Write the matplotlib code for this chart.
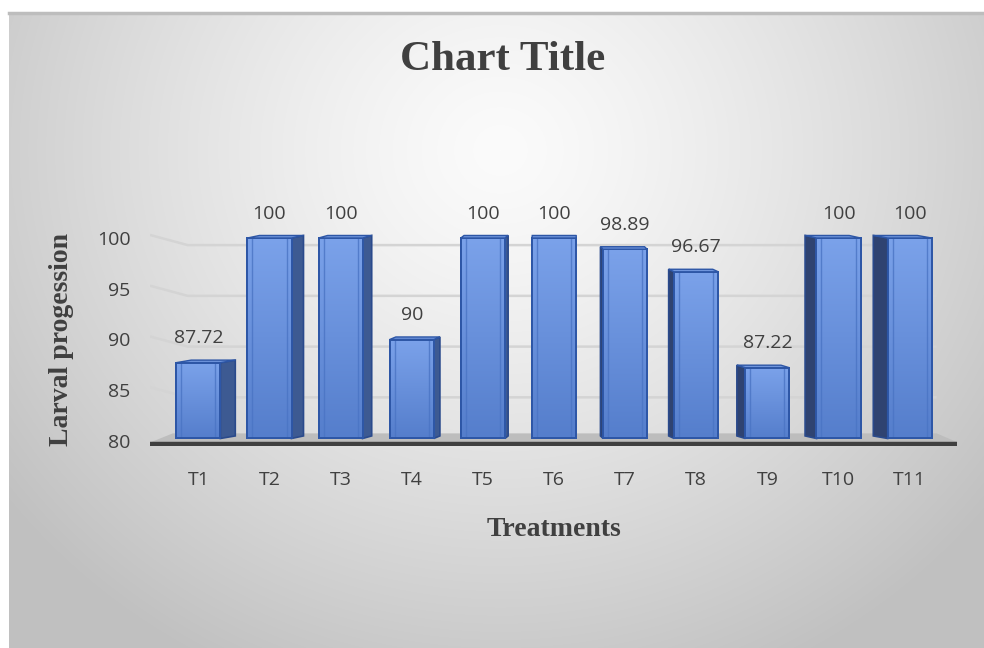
import numpy as np
import matplotlib
matplotlib.use("Agg")
import matplotlib.pyplot as plt
from matplotlib.patches import Polygon

# ---- data ----
categories = ["T1", "T2", "T3", "T4", "T5", "T6", "T7", "T8", "T9", "T10", "T11"]
values = [87.72, 100, 100, 90, 100, 100, 98.89, 96.67, 87.22, 100, 100]
value_labels = ["87.72", "100", "100", "90", "100", "100", "98.89", "96.67", "87.22", "100", "100"]
yticks = [80, 85, 90, 95, 100]
title = "Chart Title"
xlabel = "Treatments"
ylabel = "Larval progession"

W, H = 984, 648
fig = plt.figure(figsize=(W / 100, H / 100), dpi=100)
fig.patch.set_facecolor("white")

# ---- background panel with radial gradient ----
bg = fig.add_axes([9 / W, 0, (W - 9) / W, (H - 12) / H], zorder=-10)
yy, xx = np.mgrid[12:H, 9:W]
r = np.sqrt(((xx - 500) / 600.0) ** 2 + ((yy - 150) / 560.0) ** 2)
val = np.clip(251 - 56 * r ** 1.3, 192, 255) / 255.0
img = np.dstack([val, val, val])
bg.imshow(img, aspect="auto", extent=[0, 1, 0, 1], origin="upper", interpolation="bilinear")
bg.plot([0, 1], [0.998, 0.998], color="#bdbdbd", lw=2.5, transform=bg.transAxes, clip_on=False)
bg.set_axis_off()

# ---- main axes ----
x0_px, x1_px = 150, 958
ylo, yhi = 79.5, 104
ppu = 10.15
bottom_px = 441 + (80 - ylo) * ppu
height_px = (yhi - ylo) * ppu
ax = fig.add_axes([x0_px / W, (H - bottom_px) / H, (x1_px - x0_px) / W, height_px / H])
ax.set_facecolor("none")
for s in ax.spines.values():
    s.set_visible(False)
xlo, xhi = -0.68, 10.68
ax.set_xlim(xlo, xhi)
ax.set_ylim(ylo, yhi)

x = np.arange(len(categories))

# gridlines with perspective piece
for v in yticks[1:]:
    ax.plot([xlo, -0.15, xhi - 0.3], [v + 0.3, v - 0.7, v - 0.7], color="#d4d4d4", lw=1.8, zorder=1,
            solid_capstyle="butt")

# floor
floor = Polygon([[xlo, 79.85], [xhi, 79.85], [xhi - 0.3, 80.75], [xlo + 0.32, 80.75]],
                closed=True, facecolor="#bdbdbd", edgecolor="none", zorder=2)
ax.add_patch(floor)
ax.plot([xlo, xhi - 0.02], [79.75, 79.75], color="#404040", lw=3.2, zorder=6, solid_capstyle="butt")

# bars
w = 0.62
base = 80.25
vx = 5.1
kdx = 0.041
dy = 0.25
bars = ax.bar(x, np.array(values) - base, bottom=base, width=w, color="#5b84d0",
              edgecolor="#2d56a6", linewidth=1.4, zorder=4)

grad = np.linspace(0, 1, 100).reshape(-1, 1)
top_c = np.array([0x7b, 0xa2, 0xea]) / 255
bot_c = np.array([0x55, 0x7e, 0xcc]) / 255
gimg = top_c * (1 - grad[..., None]) + bot_c * grad[..., None]
for i, (b, v) in enumerate(zip(bars, values)):
    cx = x[i]
    dx = kdx * (vx - cx)
    im = ax.imshow(gimg, extent=[cx - w / 2, cx + w / 2, base, v], aspect="auto",
                   origin="upper", zorder=4.1, interpolation="bilinear")
    im.set_clip_path(b)
    # bevel inner lines
    ax.plot([cx - w / 2 + 0.07] * 2, [base + 0.1, v - 0.1], color="#4a74c4", lw=1.0, zorder=4.2, alpha=0.8)
    ax.plot([cx + w / 2 - 0.07] * 2, [base + 0.1, v - 0.1], color="#4a74c4", lw=1.0, zorder=4.2, alpha=0.8)
    # edge outline again on top
    ax.add_patch(Polygon([[cx - w / 2, base], [cx + w / 2, base], [cx + w / 2, v], [cx - w / 2, v]],
                         closed=True, facecolor="none", edgecolor="#2d56a6", lw=1.4, zorder=4.3))
    if abs(dx) > 0.01:
        ex = cx + w / 2 if dx > 0 else cx - w / 2
        side_col = "#3d5a92" if dx > 0 else "#2f4371"
        side = Polygon([[ex, base], [ex + dx, base + dy], [ex + dx, v + dy], [ex, v]], closed=True,
                       facecolor=side_col, edgecolor="#2a4a8c", lw=1.2, zorder=3.9)
        ax.add_patch(side)
    top = Polygon([[cx - w / 2, v], [cx + w / 2, v], [cx + w / 2 + dx, v + dy], [cx - w / 2 + dx, v + dy]],
                  closed=True, facecolor="#6f95dc", edgecolor="#2d56a6", lw=1.0, zorder=4.4)
    ax.add_patch(top)
    ax.text(cx, v + 2.4, value_labels[i], ha="center", va="center", fontsize=14,
            family="Open Sans", color="#404040", zorder=7)

ax.set_yticks(yticks)
ax.set_yticklabels([str(t) for t in yticks], fontsize=14, family="Open Sans", color="#404040")
ax.set_xticks(x)
ax.set_xticklabels(categories, fontsize=14, family="Open Sans", color="#404040")
ax.tick_params(axis="both", length=0)
ax.tick_params(axis="y", pad=14)
ax.tick_params(axis="x", pad=18)

fig.text(503 / W, 1 - 60 / H, title, ha="center", va="center", fontsize=31, fontweight="bold",
         family="Liberation Serif", color="#404040")
fig.text(554 / W, 1 - 530 / H, xlabel, ha="center", va="center", fontsize=20, fontweight="bold",
         family="Liberation Serif", color="#404040")
fig.text(62 / W, 1 - 340 / H, ylabel, ha="center", va="center", rotation=90, fontsize=20,
         fontweight="bold", family="Liberation Serif", color="#404040")

fig.savefig("out.png", dpi=100)
